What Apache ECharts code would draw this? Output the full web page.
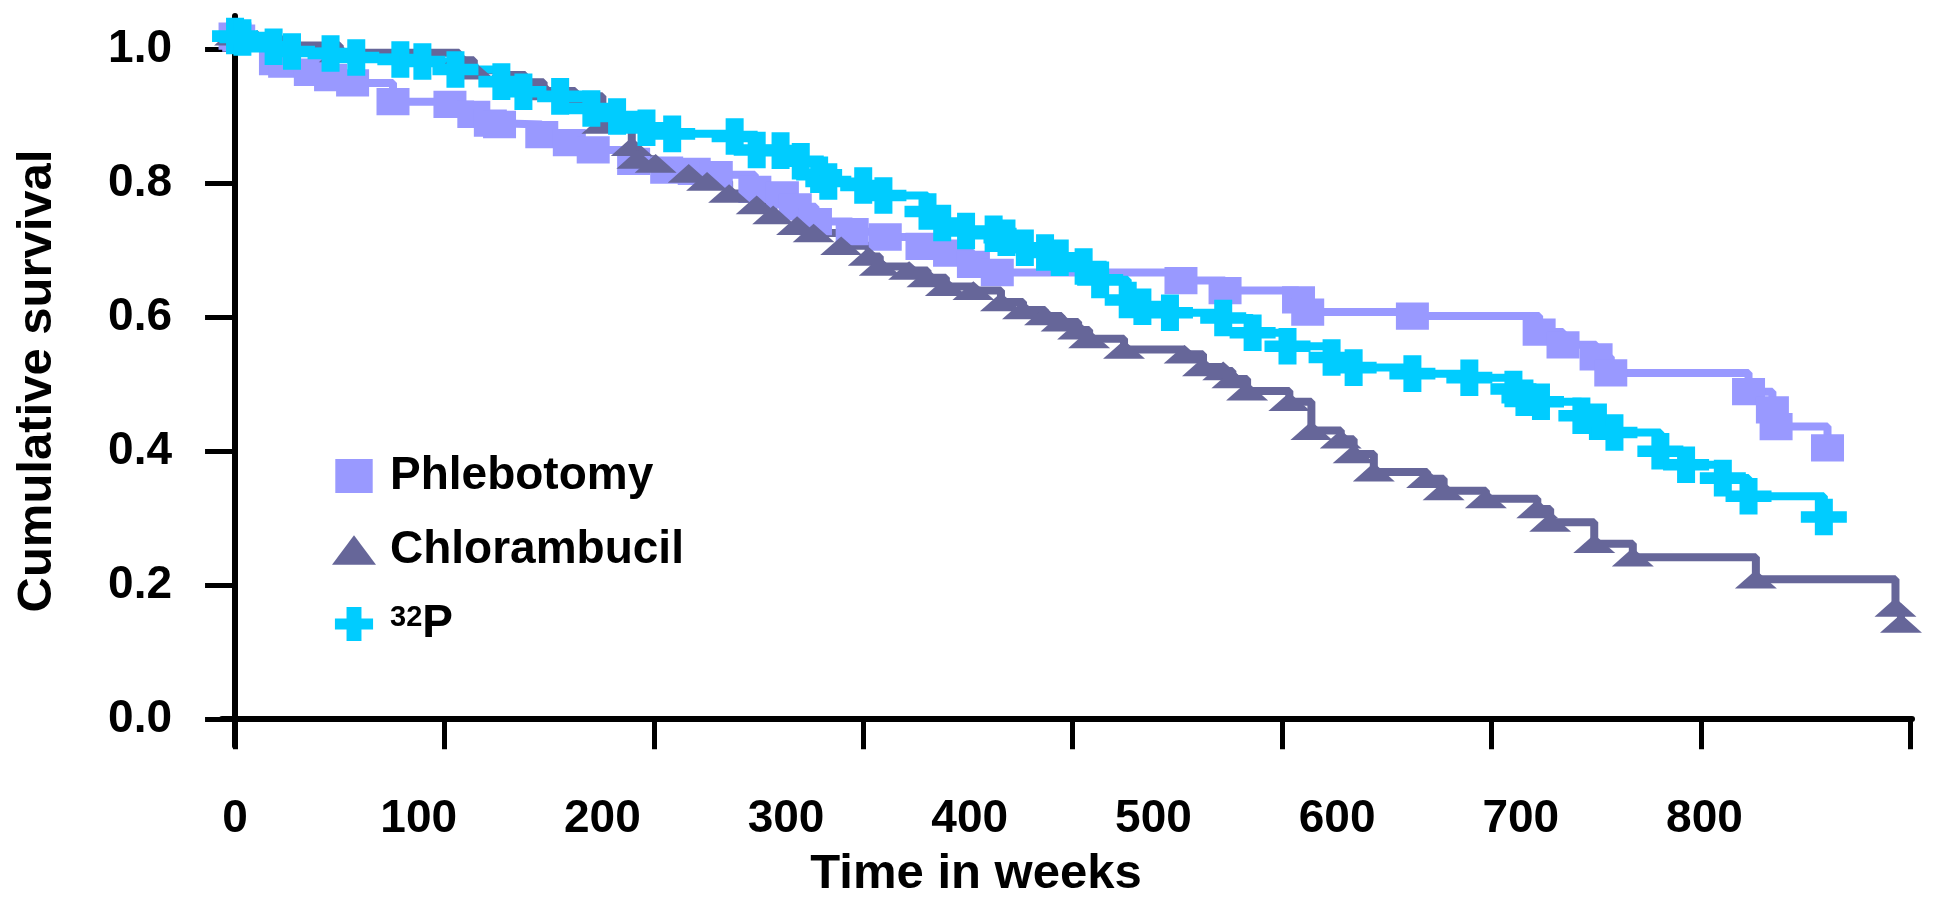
<!DOCTYPE html>
<html lang="en">
<head>
    <meta charset="UTF-8">
    <title>Cumulative survival</title>
    <style>
        html, body { margin: 0; padding: 0; background: #fff; }
        #survChart { width: 1934px; height: 900px; }
    </style>
</head>
<body>
    <div id="survChart"></div>
    <script src="https://cdn.jsdelivr.net/npm/echarts@6/dist/echarts.min.js"></script>
    <script>
    // values: weeks and survival fraction, one pair of arrays per arm
    var phlebWeeks = [0, 2, 22, 27, 41, 52, 64, 86, 117, 130, 139, 144, 167, 182, 195, 217, 235, 250, 262, 283, 298, 305, 316, 336, 354, 374, 389, 402, 415, 515, 539, 579, 584, 641, 710, 723, 741, 749, 824, 837, 839, 867];
    var phlebSurv = [1.02, 1.017, 0.982, 0.978, 0.966, 0.958, 0.95, 0.922, 0.918, 0.903, 0.89, 0.888, 0.873, 0.861, 0.85, 0.833, 0.82, 0.818, 0.813, 0.791, 0.783, 0.765, 0.743, 0.728, 0.72, 0.706, 0.696, 0.679, 0.667, 0.655, 0.64, 0.626, 0.608, 0.602, 0.578, 0.559, 0.541, 0.517, 0.489, 0.462, 0.437, 0.405];

    var chlorWeeks = [0, 12, 31, 57, 122, 130, 146, 158, 168, 185, 200, 216, 219, 229, 247, 257, 269, 284, 293, 306, 315, 330, 345, 351, 367, 377, 387, 402, 417, 429, 441, 450, 459, 465, 484, 517, 527, 538, 543, 551, 574, 586, 602, 609, 620, 649, 658, 681, 709, 716, 740, 761, 828, 904, 907];
    var chlorSurv = [1.02, 1.015, 1.006, 0.995, 0.984, 0.969, 0.962, 0.951, 0.938, 0.93, 0.888, 0.855, 0.836, 0.83, 0.815, 0.803, 0.785, 0.768, 0.753, 0.737, 0.726, 0.707, 0.691, 0.676, 0.67, 0.659, 0.646, 0.64, 0.623, 0.611, 0.602, 0.593, 0.581, 0.568, 0.552, 0.545, 0.526, 0.52, 0.508, 0.49, 0.474, 0.431, 0.418, 0.396, 0.369, 0.359, 0.341, 0.329, 0.314, 0.294, 0.262, 0.242, 0.209, 0.167, 0.143];

    var p32Weeks = [0, 4, 21, 31, 52, 66, 90, 102, 120, 145, 157, 177, 194, 208, 224, 238, 272, 284, 297, 308, 318, 323, 342, 353, 377, 385, 398, 413, 420, 430, 441, 449, 462, 471, 486, 494, 509, 538, 554, 573, 597, 609, 641, 672, 696, 702, 711, 733, 742, 751, 776, 790, 810, 824, 865];
    var p32Surv = [1.02, 1.018, 1.004, 0.997, 0.994, 0.988, 0.985, 0.982, 0.97, 0.952, 0.937, 0.93, 0.912, 0.9, 0.883, 0.874, 0.87, 0.85, 0.849, 0.833, 0.813, 0.803, 0.797, 0.782, 0.758, 0.741, 0.729, 0.725, 0.719, 0.704, 0.697, 0.689, 0.676, 0.656, 0.626, 0.616, 0.607, 0.599, 0.577, 0.557, 0.54, 0.525, 0.516, 0.51, 0.493, 0.48, 0.474, 0.453, 0.444, 0.428, 0.4, 0.38, 0.36, 0.333, 0.302];

    var seriesNames = ['Phlebotomy', 'Chlorambucil', '32P'];
    var xLabelValues = [0, 100, 200, 300, 400, 500, 600, 700, 800];
    // the tick marks in the original sit on a wider spacing than the labels
    var xTickValues = [0, 114, 228, 342, 456, 570, 684, 798, 912];
    var yLabelValues = [0, 0.2, 0.4, 0.6, 0.8, 1.0];

    function pairs(xs, ys) {
        var res = [];
        for (var i = 0; i < xs.length; i++) {
            res.push([xs[i], ys[i]]);
        }
        return res;
    }

    var font = "'Liberation Sans', Arial, sans-serif";
    var squarePath = 'path://M0,0H33V30H0Z';
    var trianglePath = 'path://M21,0L42,28H0Z';
    var crossPath = 'path://M14,0H32V14H46V27H32V41H14V27H0V14H14Z';

    function kmSeries(name, data, color, symbol, size) {
        return {
            name: name,
            type: 'line',
            step: 'end',
            data: data,
            symbol: symbol,
            symbolSize: size,
            symbolKeepAspect: true,
            showAllSymbol: true,
            lineStyle: { color: color, width: 8 },
            itemStyle: { color: color, opacity: 1 },
            emphasis: { disabled: true }
        };
    }

    var chart = echarts.init(document.getElementById('survChart'));
    var option = {
        animation: false,
        backgroundColor: '#ffffff',
        grid: { left: 222, right: 22, top: 16, bottom: 154, containLabel: false },
        legend: {
            orient: 'vertical',
            left: 327,
            top: 446,
            itemWidth: 44,
            itemHeight: 34,
            itemGap: 24,
            symbolKeepAspect: true,
            data: [
                { name: 'Phlebotomy', icon: squarePath },
                { name: 'Chlorambucil', icon: trianglePath },
                { name: '32P', icon: crossPath }
            ],
            formatter: function (name) {
                return name === '32P' ? '{sup|32}{big|P}' : name;
            },
            textStyle: {
                fontFamily: font,
                fontSize: 46,
                fontWeight: 'bold',
                color: '#000',
                lineHeight: 50,
                padding: [0, 0, 0, 9],
                rich: {
                    sup: { fontFamily: font, fontSize: 29, fontWeight: 'bold', color: '#000', lineHeight: 30, verticalAlign: 'top', padding: [4, 0, 0, 0] },
                    big: { fontFamily: font, fontSize: 46, fontWeight: 'bold', color: '#000', lineHeight: 50 }
                }
            }
        },
        xAxis: {
            type: 'value',
            min: -7.1,
            max: 913,
            axisLine: { show: true, lineStyle: { color: '#000', width: 6 } },
            axisTick: { show: true, length: 30, lineStyle: { color: '#000', width: 5 }, customValues: xTickValues },
            axisLabel: {
                customValues: xLabelValues,
                margin: 50,
                fontFamily: font,
                fontSize: 46,
                fontWeight: 'bold',
                color: '#000'
            },
            splitLine: { show: false }
        },
        yAxis: {
            type: 'value',
            min: -0.04,
            max: 1.05,
            name: 'Cumulative survival',
            nameLocation: 'middle',
            nameRotate: 90,
            nameGap: 160,
            nameTextStyle: { fontFamily: font, fontSize: 49, fontWeight: 'bold', color: '#000' },
            axisLine: { show: true, lineStyle: { color: '#000', width: 6 } },
            axisTick: { show: true, length: 30, lineStyle: { color: '#000', width: 5 }, customValues: yLabelValues },
            axisLabel: {
                customValues: yLabelValues,
                margin: 50,
                fontFamily: font,
                fontSize: 46,
                fontWeight: 'bold',
                color: '#000',
                formatter: function (v) { return v.toFixed(1); }
            },
            splitLine: { show: false }
        },
        graphic: [{
            type: 'text',
            x: 976,
            y: 850,
            style: {
                text: 'Time in weeks',
                font: 'bold 49px ' + font,
                fill: '#000',
                align: 'center',
                verticalAlign: 'top'
            }
        }],
        series: [
            kmSeries('Phlebotomy', pairs(phlebWeeks, phlebSurv), '#9999ff', squarePath, [33, 30]),
            kmSeries('Chlorambucil', pairs(chlorWeeks, chlorSurv), '#666699', trianglePath, [42, 28]),
            kmSeries('32P', pairs(p32Weeks, p32Surv), '#00ccff', crossPath, [46, 41])
        ]
    };
    chart.setOption(option);
    </script>
</body>
</html>
